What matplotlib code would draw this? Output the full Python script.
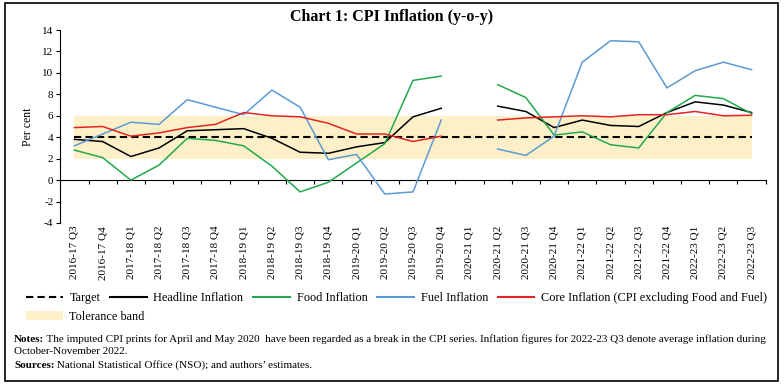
import numpy as np
import matplotlib
matplotlib.use('Agg')
import matplotlib.pyplot as plt
from matplotlib.lines import Line2D
from matplotlib.patches import Patch, Rectangle

plt.rcParams['font.family'] = ['Liberation Serif', 'DejaVu Serif']
plt.rcParams['axes.unicode_minus'] = False  # 负号用普通连字符

nan = np.nan

quarters = ['2016-17 Q3', '2016-17 Q4',
            '2017-18 Q1', '2017-18 Q2', '2017-18 Q3', '2017-18 Q4',
            '2018-19 Q1', '2018-19 Q2', '2018-19 Q3', '2018-19 Q4',
            '2019-20 Q1', '2019-20 Q2', '2019-20 Q3', '2019-20 Q4',
            '2020-21 Q1', '2020-21 Q2', '2020-21 Q3', '2020-21 Q4',
            '2021-22 Q1', '2021-22 Q2', '2021-22 Q3', '2021-22 Q4',
            '2022-23 Q1', '2022-23 Q2', '2022-23 Q3']

headline = [3.8, 3.6, 2.2, 3.0, 4.6, 4.7, 4.8, 3.9, 2.6, 2.5, 3.1, 3.5, 5.9, 6.7,
            nan, 6.9, 6.4, 4.9, 5.6, 5.1, 5.0, 6.3, 7.3, 7.0, 6.3]
food = [2.8, 2.1, 0.0, 1.4, 3.9, 3.7, 3.2, 1.3, -1.1, -0.2, 1.6, 3.4, 9.3, 9.7,
        nan, 8.9, 7.7, 4.2, 4.5, 3.3, 3.0, 6.3, 7.9, 7.6, 6.2]
fuel = [3.2, 4.3, 5.4, 5.2, 7.5, 6.8, 6.1, 8.4, 6.8, 1.9, 2.4, -1.3, -1.1, 5.6,
        nan, 2.9, 2.3, 4.1, 11.0, 13.0, 12.9, 8.6, 10.2, 11.0, 10.3]
core = [4.9, 5.0, 4.1, 4.4, 4.9, 5.2, 6.3, 6.0, 5.9, 5.3, 4.3, 4.3, 3.6, 4.1,
        nan, 5.6, 5.8, 5.9, 6.0, 5.9, 6.1, 6.1, 6.4, 6.0, 6.05]
target = [4] * len(quarters)
band_low = [2] * len(quarters)
band_high = [6] * len(quarters)

c_band = '#fdf0c9'
c_food = '#22a94b'
c_fuel = '#5b9bd5'
c_core = '#e02424'

fig = plt.figure(figsize=(7.84, 3.84), dpi=100)
fig.add_artist(Rectangle((5 / 784, 3 / 384), 773 / 784, 378 / 384, transform=fig.transFigure,
                         fill=False, edgecolor='black', linewidth=1.2))

fig.text(0.5, 1 - 17 / 384, 'Chart 1: CPI Inflation (y-o-y)', ha='center', va='center',
         fontsize=11.5, fontweight='bold')

ax = fig.add_axes([60.3 / 784, 1 - 223 / 384, 705.4 / 784, 193 / 384])
x = np.arange(len(quarters))

ax.fill_between(x, band_low, band_high, color=c_band, linewidth=0, zorder=1)
ax.plot(x, target, color='black', linestyle=(0, (3.5, 2)), linewidth=1.5, zorder=2)
ax.plot(x, headline, color='black', linewidth=1.1, zorder=3)
ax.plot(x, food, color=c_food, linewidth=1.1, zorder=3)
ax.plot(x, fuel, color=c_fuel, linewidth=1.1, zorder=3)
ax.plot(x, core, color=c_core, linewidth=1.1, zorder=3)

ax.set_xlim(-0.5, len(quarters) - 0.5)
ax.set_ylim(-4, 14)
ax.set_yticks(np.arange(-4, 15, 2))
ax.tick_params(axis='y', labelsize=8, length=3, width=0.8, pad=2)
ax.set_xticks(x)
ax.set_xticklabels(quarters, rotation=90, fontsize=8)
ax.tick_params(axis='x', length=0, pad=2)
for s in ['top', 'right', 'bottom']:
    ax.spines[s].set_visible(False)
ax.spines['left'].set_linewidth(0.8)
ax.set_ylabel('Per cent', fontsize=8.5, labelpad=6)

# x轴线画在0处
sec = ax.secondary_xaxis(4 / 18)
sec.set_xticks(np.arange(-0.5, len(quarters), 1))
sec.tick_params(axis='x', direction='out', length=3, width=0.8, labelbottom=False, labeltop=False)
sec.spines['bottom'].set_linewidth(0.8)
sec.spines['top'].set_linewidth(0.8)

handles = [
    Line2D([], [], color='black', linestyle=(0, (3.5, 2)), linewidth=1.5),
    Line2D([], [], color='black', linewidth=1.5),
    Line2D([], [], color=c_food, linewidth=1.5),
    Line2D([], [], color=c_fuel, linewidth=1.5),
    Line2D([], [], color=c_core, linewidth=1.5),
]
labels = ['Target', 'Headline Inflation', 'Food Inflation', 'Fuel Inflation',
          'Core Inflation (CPI excluding Food and Fuel)']
fig.legend(handles, labels, loc='center left', bbox_to_anchor=(26 / 784, 1 - 298 / 384),
           ncol=5, frameon=False, fontsize=8.8, handlelength=3.0, handletextpad=0.55,
           columnspacing=0.8, borderpad=0, borderaxespad=0)
fig.legend([Patch(facecolor=c_band, edgecolor='none')], ['Tolerance band'], loc='center left',
           bbox_to_anchor=(26 / 784, 1 - 317 / 384), frameon=False, fontsize=8.8,
           handlelength=3.0, handletextpad=0.55, borderpad=0, borderaxespad=0)

t = fig.text(14 / 784, 1 - 339 / 384, 'Notes:', fontsize=8, fontweight='bold', va='center')
ax.annotate(' The imputed CPI prints for April and May 2020  have been regarded as a break in the CPI series. '
            'Inflation figures for 2022-23 Q3 denote average inflation during',
            xy=(1, 0), xycoords=t, va='bottom', ha='left', fontsize=8, annotation_clip=False)
fig.text(14 / 784, 1 - 352 / 384, 'October-November 2022.', fontsize=8, va='center')
t2 = fig.text(14 / 784, 1 - 365 / 384, 'Sources:', fontsize=8, fontweight='bold', va='center')
ax.annotate(' National Statistical Office (NSO); and authors\u2019 estimates.',
            xy=(1, 0), xycoords=t2, va='bottom', ha='left', fontsize=8, annotation_clip=False)

fig.savefig('out.png', dpi=100)
